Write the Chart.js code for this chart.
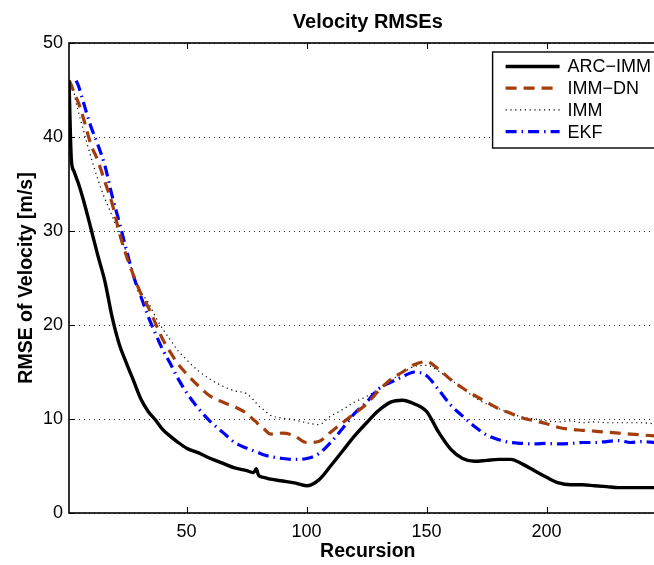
<!DOCTYPE html>
<html>
<head>
<meta charset="utf-8">
<title>Velocity RMSEs</title>
<script src="https://cdn.jsdelivr.net/npm/chart.js@4/dist/chart.umd.min.js"></script>
<style>
  html, body { margin: 0; padding: 0; background: #fff; overflow: hidden; }
  canvas { display: block; }
</style>
</head>
<body>
<canvas id="c" width="670" height="565"></canvas>
<script>
// Recursion index at which each RMSE value is sampled
const recursion = [1, 2, 3, 4, 5, 7, 10, 13, 16, 19, 22, 25, 28, 31, 34, 37, 40, 43, 46, 50,
  55, 60, 65, 70, 75, 78, 79, 80, 82, 85, 90, 95, 100, 105, 110, 115, 120, 125, 130, 135,
  140, 145, 150, 155, 160, 165, 170, 175, 180, 185, 190, 195, 200, 205, 210, 215, 220, 225, 230, 235,
  240, 245, 250];

// Velocity RMSE [m/s] per filter
const arcImm = [46, 37.5, 36.4, 35.7, 35.0, 33.3, 30.4, 27.4, 24.6, 20.8, 17.9, 15.9, 14.0, 12.1, 10.8, 9.9, 8.9, 8.2, 7.6, 6.9,
  6.4, 5.8, 5.3, 4.8, 4.5, 4.3, 4.7, 4.0, 3.8, 3.6, 3.4, 3.2, 2.9, 3.5, 5.0, 6.6, 8.2, 9.6, 10.9, 11.8,
  12.0, 11.6, 10.8, 8.6, 6.8, 5.8, 5.5, 5.6, 5.7, 5.7, 5.2, 4.5, 3.8, 3.2, 3.0, 3.0, 2.9, 2.8, 2.7, 2.7,
  2.7, 2.7, 2.6];

const immDn = [46, 45.5, 44.8, 44.2, 43.6, 42.0, 39.3, 37.5, 35.2, 32.9, 29.8, 27.3, 25.2, 23.3, 21.9, 20.2, 18.5, 17.2, 16.0, 14.8,
  13.5, 12.4, 11.8, 11.3, 10.6, 9.9, 9.7, 9.4, 9.0, 8.4, 8.5, 8.2, 7.5, 7.6, 8.6, 9.6, 10.6, 11.6, 13.0, 14.2,
  15.0, 15.8, 16.1, 15.3, 14.2, 13.3, 12.5, 11.8, 11.1, 10.6, 10.1, 9.8, 9.5, 9.1, 8.9, 8.8, 8.7, 8.6, 8.5, 8.4,
  8.3, 8.2, 8.1];

const imm = [46, 45.6, 44.8, 43.6, 42.6, 40.7, 38.0, 35.5, 33.4, 31.6, 29.6, 27.7, 25.2, 23.5, 22.4, 20.9, 19.6, 18.5, 17.4, 16.3,
  15.1, 14.2, 13.5, 13.0, 12.7, 12.0, 11.7, 11.4, 11.0, 10.4, 10.1, 9.9, 9.6, 9.4, 10.3, 11.0, 11.8, 12.4, 13.2, 14.1,
  14.9, 15.6, 15.7, 15.1, 14.2, 13.3, 12.3, 11.6, 11.1, 10.6, 10.2, 10.0, 9.8, 9.7, 9.8, 9.6, 9.7, 9.6, 9.6, 9.6,
  9.6, 9.5, 9.5];

// The EKF curve has no samples before recursion 4
const ekf = [null, null, null, 46, 45.4, 43.7, 41.2, 39.2, 36.9, 33.7, 30.9, 27.9, 25.1, 23.0, 20.9, 19.1, 17.4, 16.0, 14.5, 12.8,
  11.1, 9.7, 8.6, 7.5, 6.9, 6.6, 6.5, 6.4, 6.2, 6.0, 5.8, 5.7, 5.8, 6.3, 7.5, 9.0, 10.6, 11.8, 13.2, 13.9,
  14.5, 15.0, 14.6, 13.1, 11.5, 10.3, 9.2, 8.3, 7.8, 7.5, 7.4, 7.35, 7.4, 7.35, 7.4, 7.5, 7.5, 7.6, 7.7, 7.5,
  7.6, 7.5, 7.4];

const seriesLabels = ['ARC\u2212IMM', 'IMM\u2212DN', 'IMM', 'EKF'];
const xTickValues = [50, 100, 150, 200];
const yTickValues = [0, 10, 20, 30, 40, 50];

const FONT = '"Liberation Sans", Arial, Helvetica, sans-serif';
Chart.defaults.font.family = FONT;
Chart.defaults.color = '#000';

const toPoints = ys => recursion.map((x, i) => ({ x: x, y: ys[i] }));

// Boxed axes with inward tick marks on all sides
const boxAxes = {
  id: 'boxAxes',
  afterDatasetsDraw(chart) {
    const { ctx, chartArea: a, scales } = chart;
    const len = 6;
    ctx.save();
    ctx.strokeStyle = '#000';
    ctx.lineWidth = 1;
    ctx.beginPath();
    xTickValues.forEach(v => {
      const px = Math.round(scales.x.getPixelForValue(v)) + 0.5;
      ctx.moveTo(px, a.bottom); ctx.lineTo(px, a.bottom - len);
      ctx.moveTo(px, a.top); ctx.lineTo(px, a.top + len);
    });
    yTickValues.forEach(v => {
      const py = Math.round(scales.y.getPixelForValue(v)) + 0.5;
      ctx.moveTo(a.left, py); ctx.lineTo(a.left + len, py);
      ctx.moveTo(a.right, py); ctx.lineTo(a.right - len, py);
    });
    ctx.stroke();
    ctx.lineWidth = 1.6;
    ctx.strokeRect(a.left, a.top, a.right - a.left, a.bottom - a.top);
    ctx.restore();
  }
};

// Legend box in the upper right corner of the plot
const boxLegend = {
  id: 'boxLegend',
  afterDraw(chart) {
    const { ctx, chartArea: a } = chart;
    const left = a.right - 174;
    const top = a.top + 9;
    const rowH = 21.7;
    ctx.save();
    ctx.fillStyle = '#fff';
    ctx.fillRect(left, top, chart.width - left + 10, 96);
    ctx.strokeStyle = '#000';
    ctx.lineWidth = 1.4;
    ctx.strokeRect(left, top, chart.width - left + 10, 96);
    chart.data.datasets.forEach((ds, i) => {
      const y = top + 14.5 + i * rowH;
      ctx.beginPath();
      ctx.strokeStyle = ds.borderColor;
      ctx.lineWidth = ds.borderWidth;
      ctx.setLineDash(ds.borderDash || []);
      ctx.moveTo(left + 13, y);
      ctx.lineTo(left + 67, y);
      ctx.stroke();
      ctx.setLineDash([]);
      ctx.fillStyle = '#000';
      ctx.font = '18px ' + FONT;
      ctx.textBaseline = 'middle';
      ctx.textAlign = 'left';
      ctx.fillText(ds.label, left + 75, y + 1);
    });
    ctx.restore();
  }
};

new Chart(document.getElementById('c'), {
  type: 'line',
  data: {
    datasets: [
      { label: seriesLabels[0], data: toPoints(arcImm), borderColor: '#000000', borderWidth: 3.4, borderDash: [] },
      { label: seriesLabels[1], data: toPoints(immDn), borderColor: '#a33d0c', borderWidth: 3.2, borderDash: [11, 7] },
      { label: seriesLabels[2], data: toPoints(imm), borderColor: '#000000', borderWidth: 1.2, borderDash: [1.2, 3.6] },
      { label: seriesLabels[3], data: toPoints(ekf), borderColor: '#0000ff', borderWidth: 3.2, borderDash: [11, 5, 1.5, 5] }
    ]
  },
  options: {
    responsive: false,
    animation: false,
    events: [],
    layout: { padding: { top: 0, right: 3.4, bottom: 0, left: 0 } },
    elements: {
      point: { radius: 0 },
      line: { cubicInterpolationMode: 'monotone', borderCapStyle: 'butt', borderJoinStyle: 'round' }
    },
    plugins: {
      legend: { display: false },
      tooltip: { enabled: false },
      title: {
        display: true,
        fullSize: false,
        text: 'Velocity RMSEs',
        color: '#000',
        font: { size: 20, weight: 'bold', family: FONT },
        padding: { top: 10, bottom: 9 }
      }
    },
    scales: {
      x: {
        type: 'linear',
        min: 1,
        max: 250,
        afterBuildTicks: s => { s.ticks = xTickValues.map(v => ({ value: v })); },
        afterFit: s => { s.height = 52; },
        grid: { display: false, drawTicks: false },
        border: { display: false },
        ticks: { padding: 8, font: { size: 18 }, color: '#000', maxRotation: 0 },
        title: {
          display: true,
          text: 'Recursion',
          color: '#000',
          font: { size: 19.5, weight: 'bold', family: FONT },
          padding: { top: 0, bottom: 2 }
        }
      },
      y: {
        min: 0,
        max: 50,
        afterBuildTicks: s => { s.ticks = yTickValues.map(v => ({ value: v })); },
        afterFit: s => { s.width = 69; },
        grid: { display: true, drawTicks: false, color: '#333', lineWidth: 1 },
        border: { display: false, dash: [1, 4] },
        ticks: { padding: 6, font: { size: 18 }, color: '#000' },
        title: {
          display: true,
          text: 'RMSE of Velocity [m/s]',
          color: '#000',
          font: { size: 19.5, weight: 'bold', family: FONT },
          padding: { top: 15, bottom: 0 }
        }
      }
    }
  },
  plugins: [boxAxes, boxLegend]
});
</script>
</body>
</html>
